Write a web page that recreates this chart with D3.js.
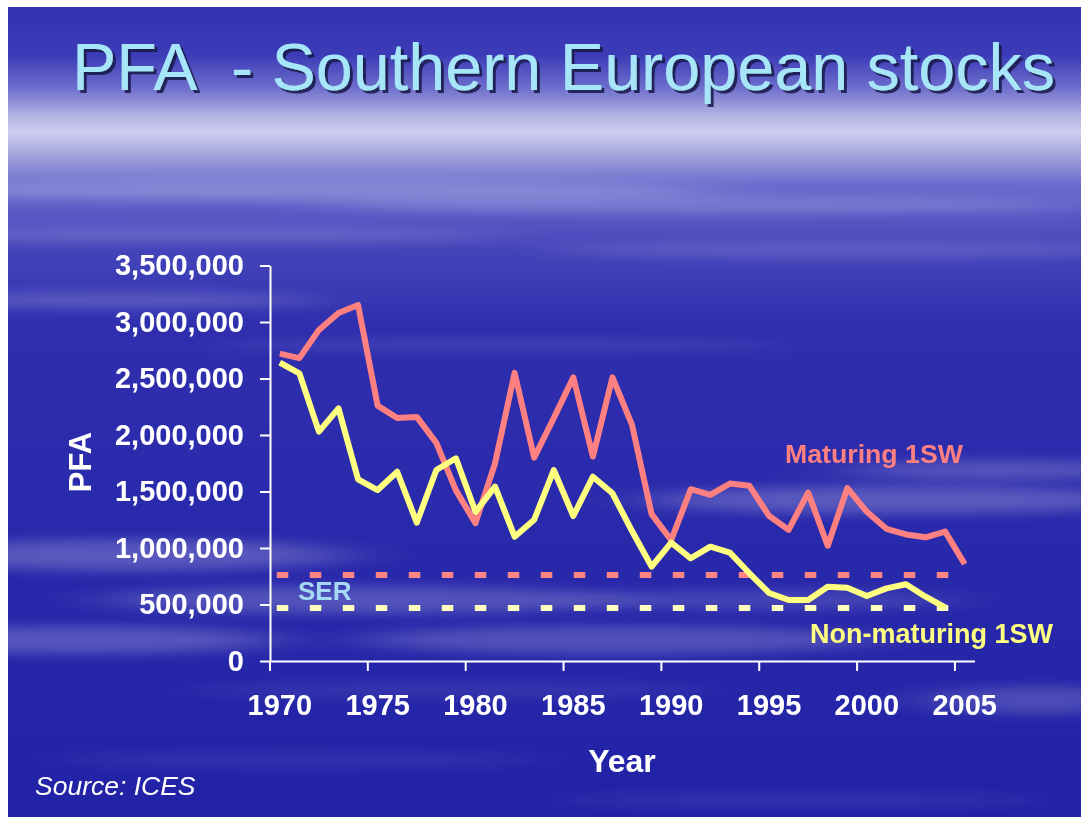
<!DOCTYPE html>
<html>
<head>
<meta charset="utf-8">
<script src="https://cdn.jsdelivr.net/npm/d3@7"></script>
<style>
  html, body { margin: 0; padding: 0; background: #ffffff; }
  svg { display: block; }
  text { font-family: "Liberation Sans", Arial, sans-serif; }
</style>
</head>
<body>
<svg id="chart" width="1081" height="817"></svg>
<script>
// ---- data -------------------------------------------------------------
const years = [1970, 1971, 1972, 1973, 1974, 1975, 1976, 1977, 1978, 1979,
               1980, 1981, 1982, 1983, 1984, 1985, 1986, 1987, 1988, 1989,
               1990, 1991, 1992, 1993, 1994, 1995, 1996, 1997, 1998, 1999,
               2000, 2001, 2002, 2003, 2004, 2005];

const maturing1SW = [2720000, 2680000, 2930000, 3080000, 3150000, 2260000,
                     2150000, 2160000, 1930000, 1510000, 1220000, 1750000,
                     2550000, 1800000, 2150000, 2510000, 1810000, 2510000,
                     2090000, 1300000, 1070000, 1520000, 1470000, 1570000,
                     1550000, 1285000, 1160000, 1490000, 1020000, 1530000,
                     1320000, 1170000, 1120000, 1095000, 1145000, 858000];

const nonMaturing1SW = [2640000, 2546000, 2030000, 2236000, 1608000, 1513000,
                        1675000, 1224000, 1690000, 1794000, 1320000, 1543000,
                        1100000, 1250000, 1690000, 1283000, 1631000, 1484000,
                        1150000, 835000, 1047000, 909000, 1012000, 959000,
                        776000, 602000, 540000, 540000, 658000, 649000,
                        575000, 643000, 679000, 569000, 475000, null];

// spawning escapement reserves
const serMaturing = 760000;
const serNonMaturing = 470000;

const yTicks = [0, 500000, 1000000, 1500000, 2000000, 2500000, 3000000, 3500000];
const xLabelYears = [1970, 1975, 1980, 1985, 1990, 1995, 2000, 2005];

// ---- layout -----------------------------------------------------------
const W = 1081, H = 817;
const svg = d3.select("#chart");
const defs = svg.append("defs");

// slide background: deep blue sky with a pale band under the title
const bg = defs.append("linearGradient")
  .attr("id", "sky").attr("x1", 0).attr("y1", 0).attr("x2", 0).attr("y2", 1);
[[0.00, "#3333b3"], [0.06, "#3c3cb8"], [0.10, "#6e6ecc"], [0.135, "#b4b4e4"],
 [0.155, "#cdcdee"], [0.18, "#a8a8de"], [0.22, "#6a6ace"], [0.30, "#4444ba"],
 [0.40, "#2e2eae"], [0.60, "#2a2aac"], [1.00, "#2222a6"]]
  .forEach(([o, c]) => bg.append("stop").attr("offset", o).attr("stop-color", c));

defs.append("clipPath").attr("id", "slideClip")
  .append("rect").attr("x", 8).attr("y", 7).attr("width", W - 8).attr("height", H - 7);

const blur = defs.append("filter").attr("id", "streak")
  .attr("filterUnits", "userSpaceOnUse")
  .attr("x", -200).attr("y", -100).attr("width", W + 400).attr("height", H + 200);
blur.append("feGaussianBlur").attr("stdDeviation", "40 6");

const shadow = defs.append("filter").attr("id", "titleShadow")
  .attr("x", "-5%").attr("y", "-20%").attr("width", "110%").attr("height", "140%");
shadow.append("feDropShadow").attr("dx", 3).attr("dy", 3).attr("stdDeviation", 0.6)
  .attr("flood-color", "#15154a").attr("flood-opacity", 0.85);

const slide = svg.append("g").attr("clip-path", "url(#slideClip)");
slide.append("rect").attr("x", 8).attr("y", 7).attr("width", W - 8).attr("height", H - 7)
  .attr("fill", "url(#sky)");

// soft cloud streaks across the background
const streaks = [
  [300, 190, 420, 10, 0.22], [700, 205, 380, 8, 0.18], [200, 235, 300, 7, 0.15],
  [850, 250, 300, 8, 0.14], [120, 300, 200, 8, 0.18], [500, 345, 300, 6, 0.10],
  [130, 555, 220, 16, 0.22], [80, 640, 200, 14, 0.22], [360, 600, 260, 14, 0.20],
  [620, 640, 260, 14, 0.20], [900, 500, 260, 14, 0.22], [1000, 470, 160, 10, 0.2],
  [760, 600, 200, 10, 0.14], [1040, 700, 120, 14, 0.18], [450, 690, 260, 8, 0.08],
  [300, 760, 240, 8, 0.07], [800, 800, 240, 8, 0.07]
];
slide.append("g").attr("filter", "url(#streak)")
  .selectAll("ellipse").data(streaks).join("ellipse")
  .attr("cx", d => d[0]).attr("cy", d => d[1])
  .attr("rx", d => d[2]).attr("ry", d => d[3])
  .attr("fill", "#ffffff").attr("opacity", d => d[4]);

// ---- title ------------------------------------------------------------
svg.append("text")
  .attr("x", 72).attr("y", 90)
  .attr("font-size", 66)
  .attr("fill", "#a6e6f8")
  .attr("filter", "url(#titleShadow)")
  .style("white-space", "pre")
  .attr("textLength", 983).attr("lengthAdjust", "spacingAndGlyphs")
  .text("PFA  - Southern European stocks");

// ---- scales -----------------------------------------------------------
const x = d3.scaleBand().domain(years).range([270, 974.5]).padding(0);
const bw = x.bandwidth();
const cx = yr => x(yr) + bw / 2;
const y = d3.scaleLinear().domain([0, 3500000]).range([661, 265.5]);

const plot = svg.append("g");

// y axis
const yAxis = plot.append("g").attr("transform", "translate(270,0)")
  .call(d3.axisLeft(y).tickValues(yTicks).tickSize(10).tickSizeOuter(0)
        .tickPadding(16).tickFormat(d3.format(",")));
yAxis.select(".domain").attr("stroke", "#ffffff").attr("stroke-width", 2);
yAxis.selectAll(".tick line").attr("stroke", "#ffffff").attr("stroke-width", 2);
yAxis.selectAll(".tick text")
  .attr("fill", "#ffffff").attr("font-size", 29).attr("font-weight", "bold")
  .attr("font-family", "'Liberation Sans', Arial, sans-serif");

// x axis: tick marks on category boundaries, labels on category centres
const xAxis = plot.append("g").attr("transform", "translate(0,661)")
  .call(d3.axisBottom(x).tickValues(xLabelYears).tickSize(10).tickSizeOuter(0)
        .tickPadding(23));
xAxis.select(".domain").attr("stroke", "#ffffff").attr("stroke-width", 2);
xAxis.selectAll(".tick line").attr("stroke", "#ffffff").attr("stroke-width", 2)
  .attr("x1", -bw / 2).attr("x2", -bw / 2);
xAxis.selectAll(".tick text")
  .attr("fill", "#ffffff").attr("font-size", 29).attr("font-weight", "bold")
  .attr("font-family", "'Liberation Sans', Arial, sans-serif");

// axis titles
plot.append("text")
  .attr("transform", "translate(91,462) rotate(-90)")
  .attr("text-anchor", "middle")
  .attr("fill", "#ffffff").attr("font-size", 31).attr("font-weight", "bold")
  .text("PFA");
plot.append("text")
  .attr("x", 622).attr("y", 772).attr("text-anchor", "middle")
  .attr("fill", "#ffffff").attr("font-size", 32).attr("font-weight", "bold")
  .text("Year");

// ---- reference levels (dashed) ---------------------------------------
[[serMaturing, "#ff8484"], [serNonMaturing, "#ffffc0"]].forEach(([v, c]) => {
  plot.append("path")
    .datum(years)
    .attr("d", d3.line().x(d => cx(d)).y(() => y(v)))
    .attr("fill", "none").attr("stroke", c).attr("stroke-width", 6)
    .attr("stroke-dasharray", "5.5 27.5").attr("stroke-linecap", "square");
});

// ---- series lines -----------------------------------------------------
const line = d3.line()
  .defined(d => d.v != null)
  .x(d => cx(d.year)).y(d => y(d.v));

const series = [
  { name: "Maturing 1SW", values: maturing1SW, color: "#ff8080" },
  { name: "Non-maturing 1SW", values: nonMaturing1SW, color: "#ffff80" }
];
series.forEach(s => {
  plot.append("path")
    .datum(years.map((yr, i) => ({ year: yr, v: s.values[i] })))
    .attr("d", line)
    .attr("fill", "none").attr("stroke", s.color).attr("stroke-width", 6)
    .attr("stroke-linejoin", "round").attr("stroke-linecap", "butt");
});

// ---- labels -----------------------------------------------------------
plot.append("text").attr("x", 785).attr("y", 463)
  .attr("fill", "#ff8080").attr("font-size", 26.7).attr("font-weight", "bold")
  .text("Maturing 1SW");
plot.append("text").attr("x", 810).attr("y", 643)
  .attr("fill", "#ffff80").attr("font-size", 27).attr("font-weight", "bold")
  .text("Non-maturing 1SW");
plot.append("text").attr("x", 298).attr("y", 600)
  .attr("fill", "#a4d8f4").attr("font-size", 26).attr("font-weight", "bold")
  .text("SER");

svg.append("text").attr("x", 35).attr("y", 795)
  .attr("fill", "#ffffff").attr("font-size", 26.5).attr("font-style", "italic")
  .text("Source: ICES");
</script>
</body>
</html>
